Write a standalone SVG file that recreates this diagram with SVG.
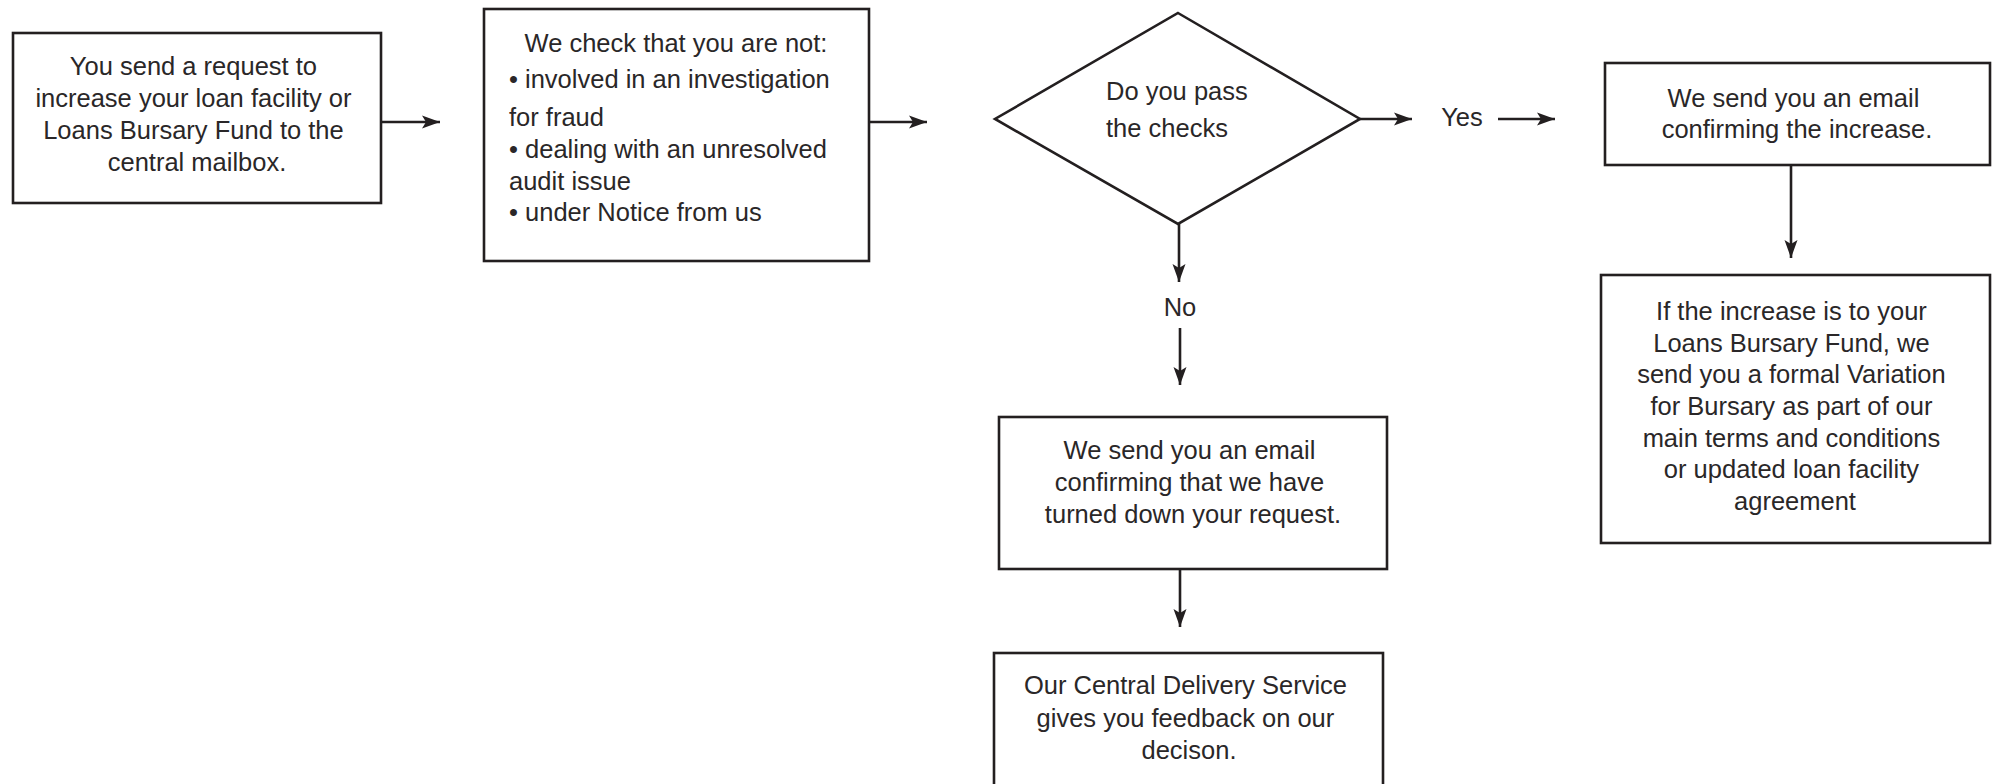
<svg xmlns="http://www.w3.org/2000/svg" width="1993" height="784" viewBox="0 0 1993 784">
  <style>
    .box { fill: #ffffff; stroke: #231f20; stroke-width: 2.6; }
    .txt { font-family: "Liberation Sans", Arial, sans-serif; font-size: 25.5px; fill: #2a2728; }
    .mid { text-anchor: middle; }
    .link { stroke: #231f20; stroke-width: 2.6; fill: none; marker-end: url(#arrow); }
  </style>
  <defs>
    <marker id="arrow" markerUnits="userSpaceOnUse" markerWidth="20" markerHeight="14" refX="18" refY="7" orient="auto">
      <path d="M0,0.5 L18,7 L0,13.5 L4,7 z" fill="#231f20"/>
    </marker>
  </defs>
  <rect width="1993" height="784" fill="#ffffff"/>

  <!-- Connectors -->
  <g id="connectors">
    <line class="link" x1="381" y1="122" x2="440" y2="122"/>
    <line class="link" x1="869" y1="122" x2="927" y2="122"/>
    <line class="link" x1="1360" y1="119" x2="1412" y2="119"/>
    <line class="link" x1="1498" y1="119" x2="1555" y2="119"/>
    <line class="link" x1="1179" y1="224" x2="1179" y2="282"/>
    <line class="link" x1="1180" y1="328" x2="1180" y2="385"/>
    <line class="link" x1="1180" y1="569" x2="1180" y2="627"/>
    <line class="link" x1="1791" y1="165" x2="1791" y2="258"/>
    <text class="txt mid" x="1462" y="126">Yes</text>
    <text class="txt mid" x="1180" y="316">No</text>
  </g>

  <!-- Request -->
  <g id="node-request">
    <rect class="box" x="13" y="33" width="368" height="170"/>
    <text class="txt mid" x="197">
      <tspan x="197" y="75">You send a request to</tspan>
      <tspan x="197" y="107">increase your loan facility or</tspan>
      <tspan x="197" y="139">Loans Bursary Fund to the</tspan>
      <tspan x="197" y="171">central mailbox.</tspan>
    </text>
  </g>

  <!-- Checks -->
  <g id="node-checks">
    <rect class="box" x="484" y="9" width="385" height="252"/>
    <text class="txt mid" x="676" y="52">We check that you are not:</text>
    <text class="txt" x="509">
      <tspan x="509" y="88">• involved in an investigation</tspan>
      <tspan x="509" y="126">for fraud</tspan>
      <tspan x="509" y="158">• dealing with an unresolved</tspan>
      <tspan x="509" y="190">audit issue</tspan>
      <tspan x="509" y="221">• under Notice from us</tspan>
    </text>
  </g>

  <!-- Decision -->
  <g id="node-decision">
    <polygon class="box" points="1178,13 1360,119 1178,224 995,119"/>
    <text class="txt" x="1106">
      <tspan x="1106" y="100">Do you pass</tspan>
      <tspan x="1106" y="137">the checks</tspan>
    </text>
  </g>

  <!-- Approved -->
  <g id="node-approved">
    <rect class="box" x="1605" y="63" width="385" height="102"/>
    <text class="txt mid" x="1797">
      <tspan x="1797" y="107">We send you an email</tspan>
      <tspan x="1797" y="138">confirming the increase.</tspan>
    </text>
  </g>

  <!-- Variation -->
  <g id="node-variation">
    <rect class="box" x="1601" y="275" width="389" height="268"/>
    <text class="txt mid" x="1795">
      <tspan x="1795" y="320">If the increase is to your</tspan>
      <tspan x="1795" y="352">Loans Bursary Fund, we</tspan>
      <tspan x="1795" y="383">send you a formal Variation</tspan>
      <tspan x="1795" y="415">for Bursary as part of our</tspan>
      <tspan x="1795" y="447">main terms and conditions</tspan>
      <tspan x="1795" y="478">or updated loan facility</tspan>
      <tspan x="1795" y="510">agreement</tspan>
    </text>
  </g>

  <!-- Declined -->
  <g id="node-declined">
    <rect class="box" x="999" y="417" width="388" height="152"/>
    <text class="txt mid" x="1193">
      <tspan x="1193" y="459">We send you an email</tspan>
      <tspan x="1193" y="491">confirming that we have</tspan>
      <tspan x="1193" y="523">turned down your request.</tspan>
    </text>
  </g>

  <!-- Feedback -->
  <g id="node-feedback">
    <rect class="box" x="994" y="653" width="389" height="200"/>
    <text class="txt mid" x="1189">
      <tspan x="1189" y="694">Our Central Delivery Service</tspan>
      <tspan x="1189" y="727">gives you feedback on our</tspan>
      <tspan x="1189" y="759">decison.</tspan>
    </text>
  </g>
</svg>
